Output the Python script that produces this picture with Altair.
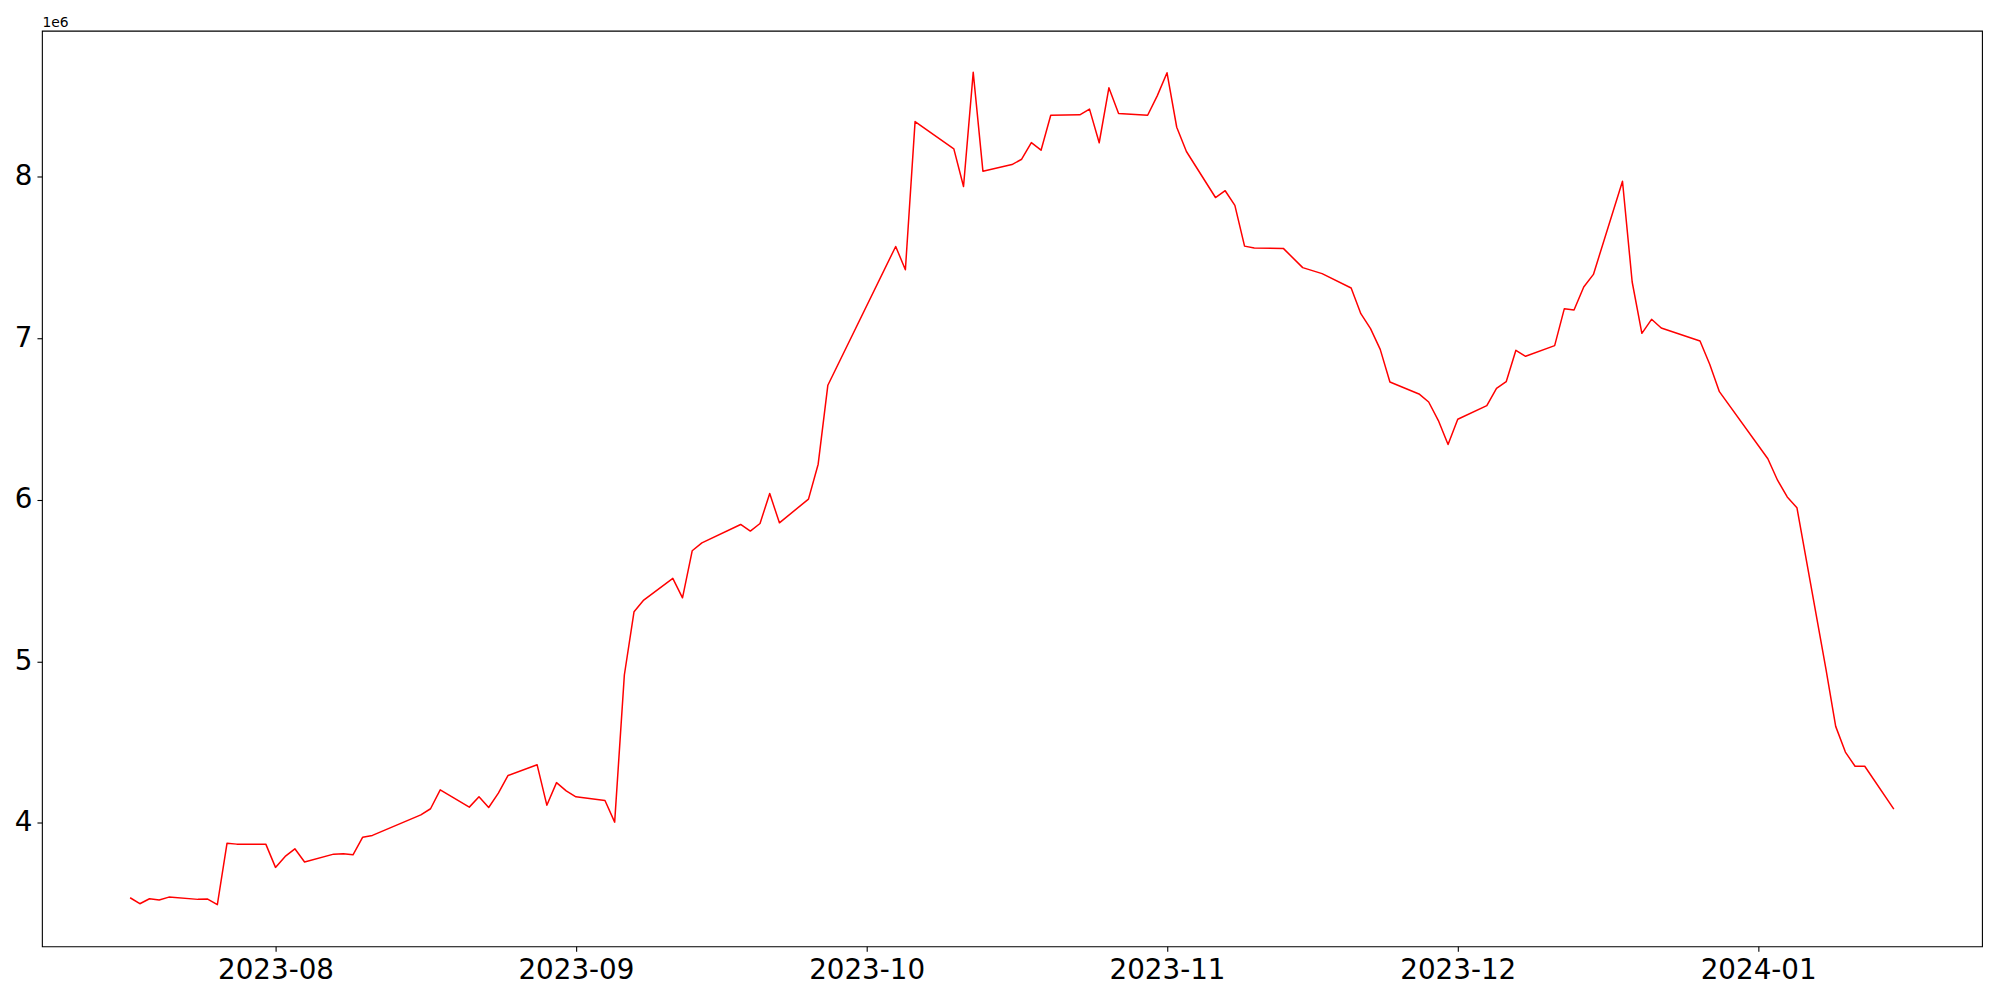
import altair as alt
import pandas as pd

dates = [
    "2023-07-17", "2023-07-18", "2023-07-19", "2023-07-20", "2023-07-21",
    "2023-07-24", "2023-07-25", "2023-07-26", "2023-07-27", "2023-07-28",
    "2023-07-31", "2023-08-01", "2023-08-02", "2023-08-03", "2023-08-04",
    "2023-08-07", "2023-08-08", "2023-08-09", "2023-08-10", "2023-08-11",
    "2023-08-16", "2023-08-17", "2023-08-18",
    "2023-08-21", "2023-08-22", "2023-08-23", "2023-08-24", "2023-08-25",
    "2023-08-28", "2023-08-29", "2023-08-30", "2023-08-31", "2023-09-01",
    "2023-09-04", "2023-09-05", "2023-09-06", "2023-09-07", "2023-09-08",
    "2023-09-11", "2023-09-12", "2023-09-13", "2023-09-14",
    "2023-09-18", "2023-09-19", "2023-09-20", "2023-09-21", "2023-09-22",
    "2023-09-25", "2023-09-26", "2023-09-27",
    "2023-10-04", "2023-10-05", "2023-10-06",
    "2023-10-10", "2023-10-11", "2023-10-12", "2023-10-13",
    "2023-10-16", "2023-10-17", "2023-10-18", "2023-10-19", "2023-10-20",
    "2023-10-23", "2023-10-24", "2023-10-25", "2023-10-26", "2023-10-27",
    "2023-10-30", "2023-10-31", "2023-11-01", "2023-11-02", "2023-11-03",
    "2023-11-06", "2023-11-07", "2023-11-08", "2023-11-09", "2023-11-10",
    "2023-11-13", "2023-11-15", "2023-11-17",
    "2023-11-20", "2023-11-21", "2023-11-22", "2023-11-23", "2023-11-24",
    "2023-11-27", "2023-11-28", "2023-11-29", "2023-11-30", "2023-12-01",
    "2023-12-04", "2023-12-05", "2023-12-06", "2023-12-07", "2023-12-08",
    "2023-12-11", "2023-12-12", "2023-12-13", "2023-12-14", "2023-12-15",
    "2023-12-18", "2023-12-19", "2023-12-20", "2023-12-21", "2023-12-22",
    "2023-12-26", "2023-12-27", "2023-12-28",
    "2024-01-02", "2024-01-03", "2024-01-04", "2024-01-05",
    "2024-01-08", "2024-01-09", "2024-01-10", "2024-01-11", "2024-01-12",
    "2024-01-15",
]

values_millions = [
    3.536, 3.499, 3.530, 3.522, 3.540,
    3.526, 3.528, 3.493, 3.874, 3.868,
    3.868, 3.724, 3.792, 3.839, 3.757,
    3.806, 3.808, 3.802, 3.911, 3.922,
    4.049, 4.087, 4.204,
    4.097, 4.161, 4.095, 4.184, 4.293,
    4.359, 4.109, 4.249, 4.198, 4.161,
    4.138, 4.004, 4.915, 5.307, 5.379,
    5.513, 5.393, 5.684, 5.733,
    5.847, 5.806, 5.853, 6.039, 5.857,
    6.004, 6.220, 6.709,
    7.568, 7.424, 8.341,
    8.172, 7.939, 8.646, 8.034,
    8.075, 8.108, 8.211, 8.164, 8.380,
    8.383, 8.418, 8.210, 8.550, 8.391,
    8.380, 8.502, 8.643, 8.306, 8.156,
    7.871, 7.913, 7.822, 7.570, 7.558,
    7.556, 7.437, 7.400,
    7.311, 7.152, 7.059, 6.931, 6.729,
    6.655, 6.605, 6.490, 6.342, 6.498,
    6.583, 6.689, 6.731, 6.925, 6.888,
    6.954, 7.183, 7.175, 7.317, 7.395,
    7.972, 7.348, 7.030, 7.117, 7.063,
    6.983, 6.839, 6.669,
    6.254, 6.121, 6.017, 5.951,
    4.950, 4.597, 4.438, 4.350, 4.350,
    4.085,
]

x_tick_dates = ["2023-08-01", "2023-09-01", "2023-10-01", "2023-11-01", "2023-12-01", "2024-01-01"]
y_tick_values = [4e6, 5e6, 6e6, 7e6, 8e6]

df = pd.DataFrame({"date": dates, "value": [v * 1e6 for v in values_millions]})

# matplotlib-like 5% margins
t = pd.to_datetime(dates)
span = t.max() - t.min()
x0 = t.min() - span * 0.05
x1 = t.max() + span * 0.05
x_domain = [int(x0.value // 10**6), int(x1.value // 10**6)]
x_ticks = [int(pd.Timestamp(d).value // 10**6) for d in x_tick_dates]

vmin, vmax = min(df["value"]), max(df["value"])
vr = vmax - vmin
y_domain = [vmin - 0.05 * vr, vmax + 0.05 * vr]

FONT = "DejaVu Sans"

chart = (
    alt.Chart(df)
    .mark_line(color="red", strokeWidth=1.5, strokeJoin="round")
    .encode(
        x=alt.X(
            "date:T",
            scale=alt.Scale(type="utc", domain=x_domain, nice=False),
            axis=alt.Axis(
                values=x_ticks,
                labelExpr="utcFormat(datum.value, '%Y-%m')",
                title=None,
                grid=False,
                domain=False,
                tickColor="black",
                tickSize=5,
                tickWidth=1.1,
                labelPadding=5,
                labelFont=FONT,
                labelFontSize=27.8,
                labelColor="black",
                labelFlush=False,
                labelOverlap=False,
            ),
        ),
        y=alt.Y(
            "value:Q",
            scale=alt.Scale(domain=y_domain, nice=False, zero=False),
            axis=alt.Axis(
                values=y_tick_values,
                labelExpr="format(datum.value / 1e6, 'd')",
                title="1e6",
                titleAngle=0,
                titleX=0,
                titleY=-4,
                titleAlign="left",
                titleBaseline="alphabetic",
                titleFont=FONT,
                titleFontSize=13.9,
                titleFontWeight="normal",
                titleColor="black",
                grid=False,
                domain=False,
                tickColor="black",
                tickSize=5,
                tickWidth=1.1,
                labelPadding=5,
                labelFont=FONT,
                labelFontSize=27.8,
                labelColor="black",
                labelFlush=False,
                labelOverlap=False,
            ),
        ),
    )
    .properties(
        width=1943,
        height=917,
        autosize=alt.AutoSizeParams(type="none"),
        padding={"left": 34, "top": 22, "right": 10, "bottom": 40},
    )
    .configure_view(stroke="#000000", strokeWidth=1.1)
)

chart.save("out.html", embed_options={"renderer": "svg", "actions": False})
